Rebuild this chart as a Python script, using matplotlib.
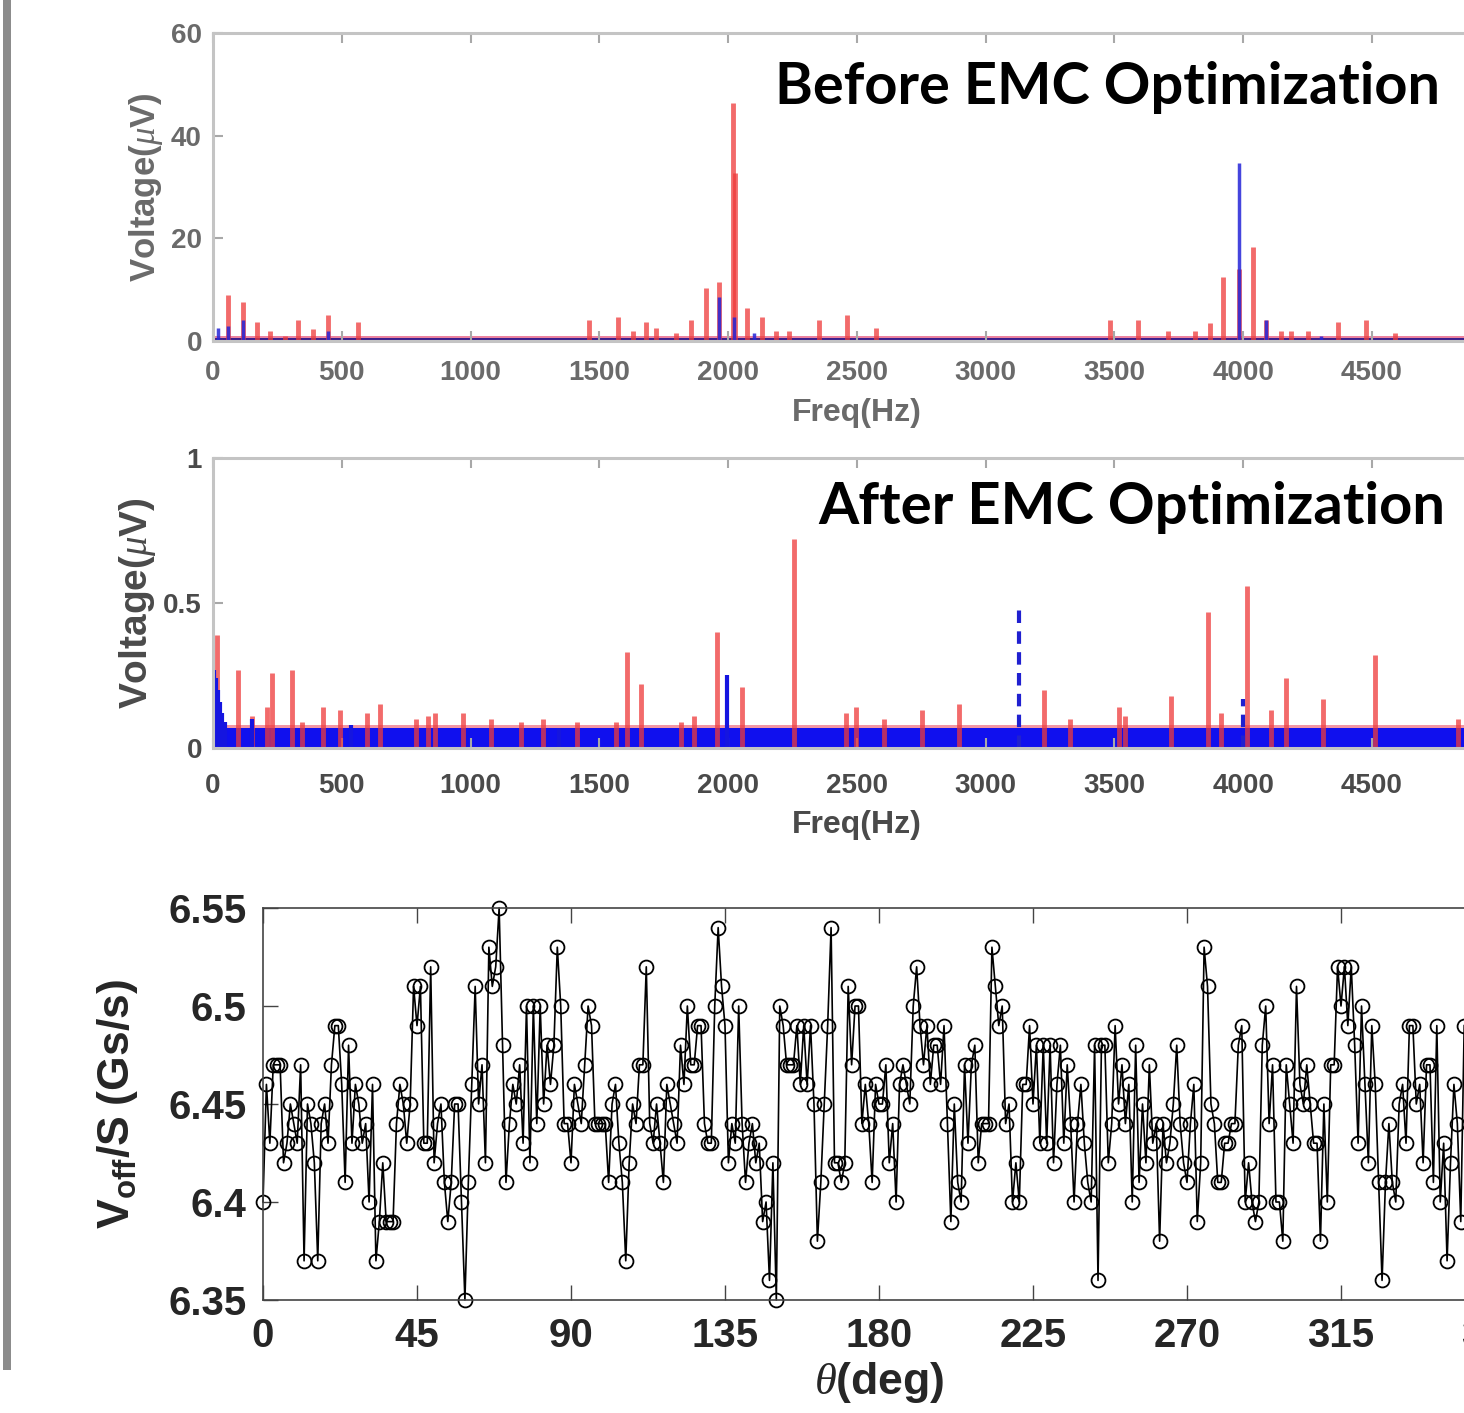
import numpy as np
import matplotlib
matplotlib.use("Agg")
import matplotlib.pyplot as plt
from matplotlib.patches import Rectangle

plt.rcParams["mathtext.fontset"] = "custom"
plt.rcParams["mathtext.rm"] = "Liberation Sans:bold"
plt.rcParams["mathtext.bf"] = "Liberation Sans:bold"
plt.rcParams["mathtext.it"] = "Liberation Serif:italic"

# ---- spectrum before EMC optimization (peaks, uV) ----
before_red_f = [58, 117, 170, 220, 280, 330, 388, 447, 563, 1461, 1571, 1629,
                1681, 1720, 1798, 1856, 1914, 1965, 2020, 2028, 2074, 2132, 2186,
                2236, 2353, 2461, 2573, 3484, 3593, 3709, 3814, 3872, 3922, 3985,
                4039, 4089, 4147, 4186, 4252, 4368, 4477, 4589]
before_red_v = [9.0, 7.6, 3.7, 2.0, 1.0, 4.0, 2.3, 5.1, 3.7, 4.1, 4.7, 2.0,
                3.7, 2.5, 1.5, 4.0, 10.3, 11.5, 46.4, 32.7, 6.4, 4.7, 2.0,
                2.0, 4.0, 5.0, 2.5, 4.1, 4.1, 2.0, 2.0, 3.5, 12.5, 14.0,
                18.3, 4.0, 2.0, 2.0, 2.0, 3.7, 4.1, 1.5]
before_blue_f = [20, 58, 117, 447, 1965, 2023, 2100, 3985, 4089, 4300]
before_blue_v = [2.5, 3.0, 4.0, 2.0, 8.6, 4.7, 1.5, 34.7, 4.0, 1.0]
before_floor = 1.0

# ---- spectrum after EMC optimization ----
after_red_f = [14, 98, 150, 208, 228, 305, 344, 428, 492, 596, 647, 790, 834,
               860, 970, 1080, 1197, 1280, 1415, 1565, 1609, 1663, 1818, 1868,
               1957, 2054, 2256, 2457, 2496, 2605, 2752, 2895, 3225, 3329, 3516,
               3540, 3721, 3864, 3915, 4016, 4109, 4167, 4310, 4512, 4833]
after_red_v = [0.39, 0.27, 0.11, 0.14, 0.26, 0.27, 0.09, 0.14, 0.13, 0.12, 0.15,
               0.10, 0.11, 0.12, 0.12, 0.10, 0.09, 0.10, 0.09, 0.09, 0.33, 0.22,
               0.09, 0.11, 0.40, 0.21, 0.72, 0.12, 0.14, 0.10, 0.13, 0.15, 0.20,
               0.10, 0.14, 0.11, 0.18, 0.47, 0.12, 0.56, 0.13, 0.24, 0.17, 0.32,
               0.10]
after_blue_f = [3, 10, 18, 26, 36, 48, 150, 537, 1345, 1996]
after_blue_v = [0.27, 0.24, 0.20, 0.16, 0.12, 0.09, 0.10, 0.08, 0.07, 0.25]
after_blue_dash_f = [3128, 4000]
after_blue_dash_v = [0.49, 0.17]
after_floor_red = 0.08
after_floor_blue = 0.07

# ---- Voff/S versus rotor angle, one point per degree ----
voff = [
    6.40, 6.46, 6.43, 6.47, 6.47, 6.47, 6.42, 6.43, 6.45, 6.44, 6.43, 6.47, 6.37,
    6.45, 6.44, 6.42, 6.37, 6.44, 6.45, 6.43, 6.47, 6.49, 6.49, 6.46, 6.41, 6.48,
    6.43, 6.46, 6.45, 6.43, 6.44, 6.40, 6.46, 6.37, 6.39, 6.42, 6.39, 6.39, 6.39,
    6.44, 6.46, 6.45, 6.43,
    6.45, 6.51, 6.49, 6.51, 6.43, 6.43, 6.52, 6.42, 6.44, 6.45, 6.41, 6.39, 6.41,
    6.45, 6.45, 6.40, 6.35, 6.41, 6.46, 6.51, 6.45, 6.47, 6.42, 6.53, 6.51, 6.52,
    6.55, 6.48, 6.41, 6.44, 6.46, 6.45, 6.47, 6.43, 6.50, 6.42, 6.50, 6.44, 6.50,
    6.45, 6.48, 6.46, 6.48, 6.53, 6.50, 6.44, 6.44, 6.42,
    6.46, 6.45, 6.44, 6.47, 6.50, 6.49, 6.44, 6.44, 6.44, 6.44, 6.41, 6.45, 6.46,
    6.43, 6.41, 6.37, 6.42, 6.45, 6.44, 6.47, 6.47, 6.52, 6.44, 6.43, 6.45, 6.43,
    6.41, 6.46, 6.45, 6.44,
    6.43, 6.48, 6.46, 6.50, 6.47, 6.47, 6.49, 6.49, 6.44, 6.43, 6.43, 6.50, 6.54,
    6.51, 6.49, 6.42, 6.44, 6.43, 6.50, 6.44, 6.41, 6.43, 6.44, 6.42, 6.43, 6.39,
    6.40, 6.36, 6.42, 6.35,
    6.50, 6.49, 6.47, 6.47, 6.47, 6.49, 6.46, 6.49, 6.46, 6.49, 6.45, 6.38, 6.41,
    6.45, 6.49, 6.54, 6.42, 6.42, 6.41, 6.42, 6.51, 6.47, 6.50, 6.50, 6.44, 6.46,
    6.44, 6.41, 6.46, 6.45,
    6.45, 6.47, 6.42, 6.44, 6.40, 6.46, 6.47, 6.46, 6.45, 6.50, 6.52, 6.49, 6.47,
    6.49, 6.46, 6.48, 6.48, 6.46, 6.49, 6.44, 6.39, 6.45, 6.41, 6.40, 6.47, 6.43,
    6.47, 6.48, 6.42, 6.44,
    6.44, 6.44, 6.53, 6.51, 6.49, 6.50, 6.44, 6.45, 6.40, 6.42, 6.40, 6.46, 6.46,
    6.49, 6.45, 6.48, 6.43, 6.48, 6.43, 6.48, 6.42, 6.46, 6.48, 6.43, 6.47, 6.44,
    6.40, 6.44, 6.46, 6.43,
    6.41, 6.40, 6.48, 6.36, 6.48, 6.48, 6.42, 6.44, 6.49, 6.45, 6.47, 6.44, 6.46,
    6.40, 6.48, 6.41, 6.45, 6.42, 6.47, 6.43, 6.44, 6.38, 6.44, 6.42, 6.43, 6.45,
    6.48, 6.44, 6.42, 6.41,
    6.44, 6.46, 6.39, 6.42, 6.53, 6.51, 6.45, 6.44, 6.41, 6.41, 6.43, 6.43, 6.44,
    6.44, 6.48, 6.49, 6.40, 6.42, 6.40, 6.39, 6.40, 6.48, 6.50, 6.44, 6.47, 6.40,
    6.40, 6.38, 6.47, 6.45,
    6.43, 6.51, 6.46, 6.45, 6.47, 6.45, 6.43, 6.43, 6.38, 6.45, 6.40, 6.47, 6.47,
    6.52, 6.50, 6.52, 6.49, 6.52, 6.48, 6.43, 6.50, 6.46, 6.42, 6.49, 6.46, 6.41,
    6.36, 6.41, 6.44, 6.41,
    6.40, 6.45, 6.46, 6.43, 6.49, 6.49, 6.45, 6.46, 6.42, 6.47, 6.47, 6.41, 6.49,
    6.40, 6.43, 6.37, 6.42, 6.46, 6.44, 6.39, 6.49,
]
theta = np.arange(len(voff))

freq_ticks = [0, 500, 1000, 1500, 2000, 2500, 3000, 3500, 4000, 4500]
theta_ticks = [0, 45, 90, 135, 180, 225, 270, 315, 360]
voff_ticks = [6.35, 6.40, 6.45, 6.50, 6.55]
voff_labels = ["6.35", "6.4", "6.45", "6.5", "6.55"]

W, H = 1464, 1413
fig = plt.figure(figsize=(W / 100, H / 100), dpi=100)


def px_axes(left, top, right, bottom):
    return fig.add_axes([left / W, 1 - bottom / H, (right - left) / W, (bottom - top) / H])


def style_spectrum(ax, ylabel, ylab_size, lab_color):
    ax.set_xlim(0, 5000)
    ax.set_xticks(freq_ticks)
    for s in ax.spines.values():
        s.set_color("#c4c4c4")
        s.set_linewidth(2.2)
    ax.tick_params(direction="in", length=7, width=1.5, color="#a8a8a8",
                   top=True, right=True, labelsize=20, labelcolor=lab_color)
    for lab in ax.get_xticklabels() + ax.get_yticklabels():
        lab.set_fontfamily("Liberation Sans")
        lab.set_fontweight("bold")
    ax.set_xlabel("Freq(Hz)", fontsize=23, fontweight="bold", color=lab_color,
                  family="Liberation Sans", labelpad=8)
    ax.set_ylabel(ylabel, fontsize=ylab_size, fontweight="bold", color=lab_color,
                  family="Liberation Sans", labelpad=4)


# panel 1: before
ax1 = px_axes(213, 33, 213 + 5000 * 0.25756, 341)
ax1.fill_between([0, 5000], 0, [before_floor, before_floor], color="#e03060", alpha=0.6, lw=0)
ax1.vlines(before_red_f, 0, before_red_v, color="#ee3a3a", lw=3.5, alpha=0.75)
ax1.vlines(before_blue_f, 0, before_blue_v, color="#2424d8", lw=2.5, alpha=0.85)
ax1.fill_between([0, 5000], 0, [before_floor * 0.6, before_floor * 0.6], color="#3c1e8c", lw=0)
ax1.set_ylim(0, 60)
ax1.set_yticks([0, 20, 40, 60])
style_spectrum(ax1, r"Voltage($\mu$V)", 25, "#6a6a6a")
ax1.tick_params(axis="x", pad=14)
ax1.tick_params(axis="y", pad=8)

# panel 2: after
ax2 = px_axes(213, 458, 213 + 5000 * 0.25756, 748)
ax2.fill_between([0, 5000], 0, [after_floor_red, after_floor_red], color="#e8405a",
                 alpha=0.55, lw=0)
ax2.vlines(after_red_f, 0, after_red_v, color="#ee3a3a", lw=3.5, alpha=0.75)
ax2.fill_between([0, 5000], 0, [after_floor_blue, after_floor_blue], color="#1010ee", lw=0)
ax2.vlines(after_blue_f, 0, after_blue_v, color="#1515e0", lw=3)
ax2.vlines(after_blue_dash_f, 0, after_blue_dash_v, color="#2020d0", lw=3,
           linestyles=(0, (3, 2)))
ax2.set_ylim(0, 1)
ax2.set_yticks([0, 0.5, 1])
ax2.set_yticklabels(["0", "0.5", "1"])
style_spectrum(ax2, r"Voltage($\mu$V)", 28, "#4a4a4a")
ax2.tick_params(axis="x", pad=18)
ax2.tick_params(axis="y", pad=8)

# panel 3: Voff/S
ax3 = px_axes(263, 908, 263 + 360 * 3.4222, 1300)
ax3.plot(theta, voff, color="black", lw=1.2, marker="o", ms=10,
         mfc="none", mec="black", mew=1.3, clip_on=False)
ax3.set_xlim(0, 360)
ax3.set_ylim(6.35, 6.55)
ax3.set_xticks(theta_ticks)
ax3.set_yticks(voff_ticks)
ax3.set_yticklabels(voff_labels)
for s in ax3.spines.values():
    s.set_color("#444444")
    s.set_linewidth(1.2)
ax3.tick_params(direction="in", length=11, width=1, color="#444444",
                top=True, right=True, labelsize=29, labelcolor="#262626", pad=12)
for lab in ax3.get_xticklabels() + ax3.get_yticklabels():
    lab.set_fontfamily("Liberation Sans")
    lab.set_fontweight("bold")
ax3.set_ylabel(r"$\mathbf{V_{off}/S\ (Gs/s)}$", fontsize=32, color="#262626", labelpad=20)
ax3.set_xlabel(r"$\theta$(deg)", fontsize=32, fontweight="bold", color="#262626",
               family="Liberation Sans", labelpad=4)

# titles inside the spectra
renderer = fig.canvas.get_renderer()


def fit_title(x, y, s, width_px):
    t = fig.text(x / W, 1 - y / H, s, ha="left", va="baseline", fontsize=40,
                 fontweight="bold", family="Lato", color="black")
    w = t.get_window_extent(renderer).width
    t.set_fontsize(40 * width_px / w)
    return t


fit_title(775, 104, "Before EMC Optimization", 665)
fit_title(818, 524, "After EMC Optimization", 627)

# gray frame edge at the left
fig.add_artist(Rectangle((3 / W, 1 - 1370 / H), 8 / W, 1370 / H,
                         transform=fig.transFigure, color="#8c8c8c", lw=0))

fig.savefig("out.png", dpi=100)
